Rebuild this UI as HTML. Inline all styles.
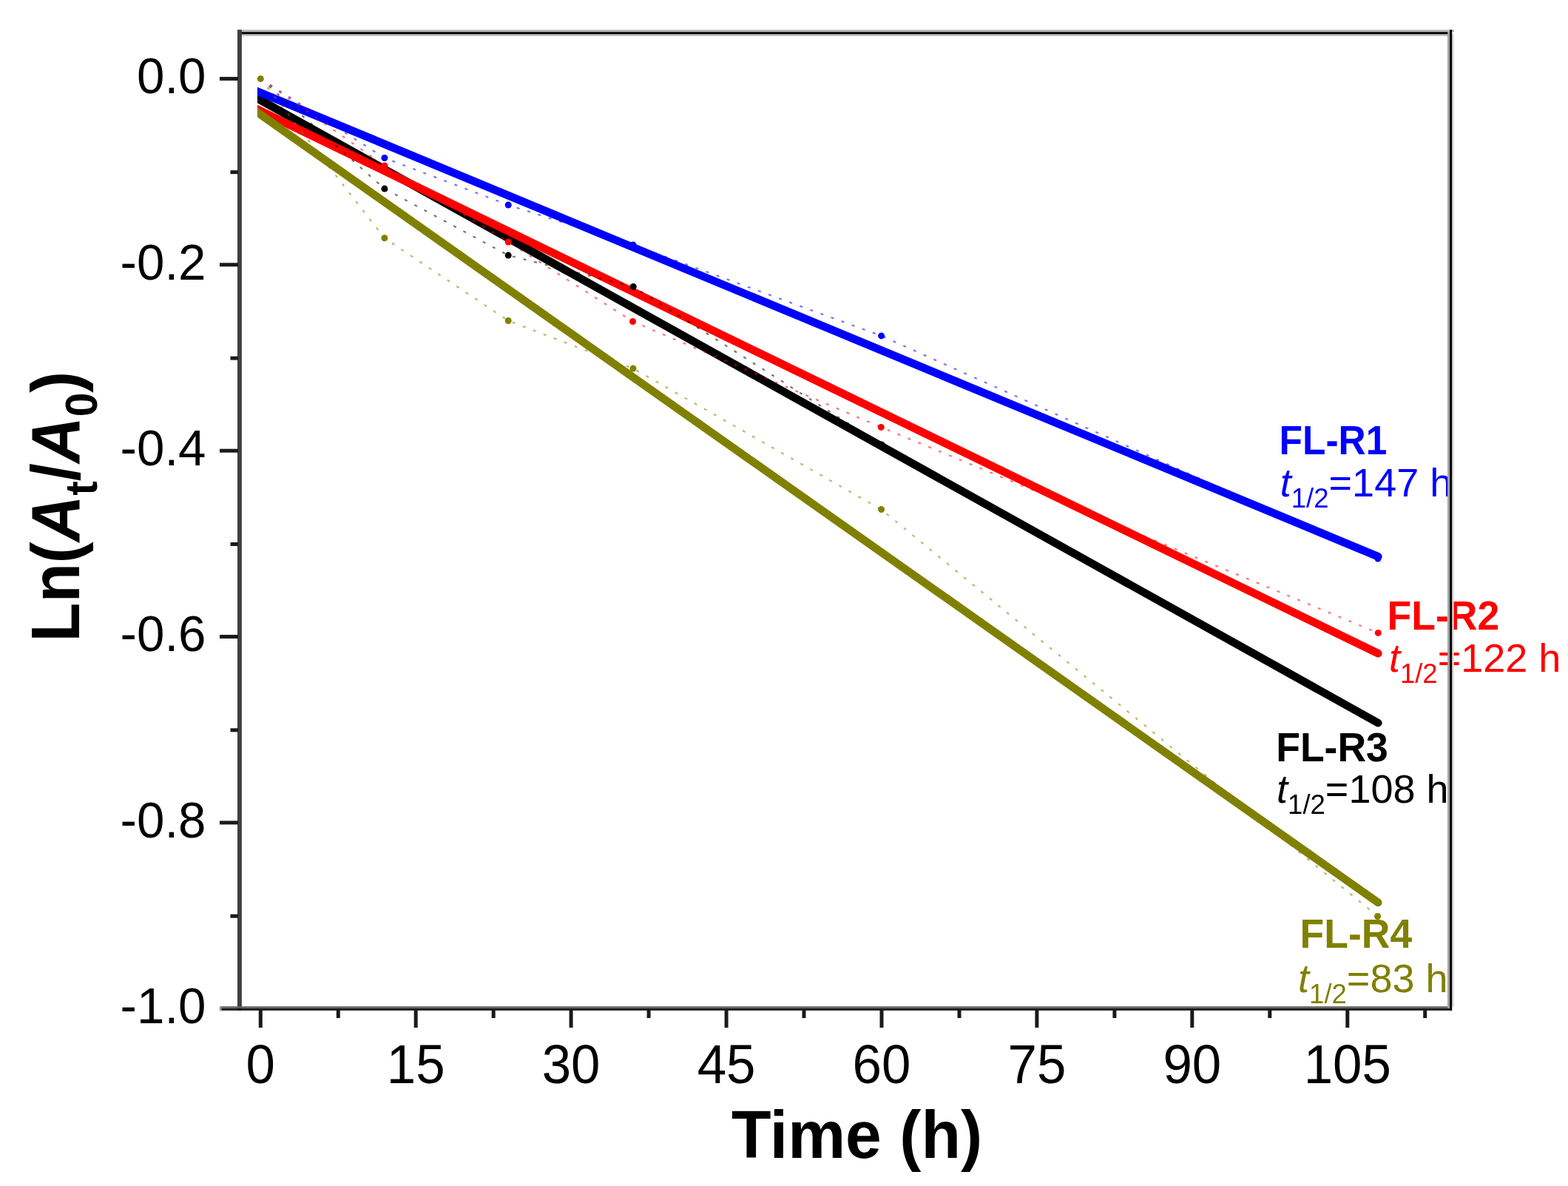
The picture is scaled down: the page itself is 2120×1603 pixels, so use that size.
<!DOCTYPE html>
<html><head><meta charset="utf-8"><title>Ln(At/A0) vs Time</title>
<style>
html,body{margin:0;padding:0;background:#fff;}
body{width:2120px;height:1603px;overflow:hidden;}
svg{display:block;}
</style></head>
<body>
<svg width="2120" height="1603" viewBox="0 0 2120 1603">
<rect x="0" y="0" width="2120" height="1603" fill="#ffffff"/>
<defs><clipPath id="fitclip"><rect x="348" y="40" width="1540" height="1330"/></clipPath></defs>
<g clip-path="url(#fitclip)">
<line x1="338.0" y1="127.43" x2="1863.2" y2="977.12" stroke="#000000" stroke-width="10.8" stroke-linecap="round"/>
<line x1="338.0" y1="142.85" x2="1863.2" y2="883.18" stroke="#ff0000" stroke-width="10.8" stroke-linecap="round"/>
<line x1="338.0" y1="144.85" x2="1863.2" y2="1219.81" stroke="#808000" stroke-width="10.8" stroke-linecap="round"/>
<line x1="338.0" y1="119.35" x2="1863.2" y2="752.16" stroke="#0000ff" stroke-width="10.8" stroke-linecap="round"/>
</g>
<path d="M352.3,106.4 L519.9,213.5 L687.2,277.0 L856.0,331.0 L1191.6,453.9 L1863.0,755.0" fill="none" stroke="#0000ff" stroke-width="2.2" stroke-dasharray="4 11" opacity="0.55"/>
<path d="M352.3,106.4 L520.0,224.0 L687.2,327.0 L855.5,434.5 L1191.3,577.4 L1863.3,855.4" fill="none" stroke="#ff0000" stroke-width="2.2" stroke-dasharray="4 11" opacity="0.55"/>
<path d="M352.3,106.4 L519.9,255.1 L687.2,345.1 L856.2,387.5 L1192.0,601.0 L1863.0,977.0" fill="none" stroke="#000000" stroke-width="2.2" stroke-dasharray="4 11" opacity="0.55"/>
<path d="M352.3,106.4 L519.9,321.8 L687.2,433.5 L856.0,498.0 L1191.6,688.6 L1862.6,1238.5" fill="none" stroke="#808000" stroke-width="2.2" stroke-dasharray="4 11" opacity="0.55"/>
<circle cx="519.9" cy="213.5" r="4.5" fill="#0000ff"/>
<circle cx="687.2" cy="277.0" r="4.5" fill="#0000ff"/>
<circle cx="856.0" cy="331.0" r="4.5" fill="#0000ff"/>
<circle cx="1191.6" cy="453.9" r="4.5" fill="#0000ff"/>
<circle cx="1863.0" cy="755.0" r="4.5" fill="#0000ff"/>
<circle cx="520.0" cy="224.0" r="4.5" fill="#ff0000"/>
<circle cx="687.2" cy="327.0" r="4.5" fill="#ff0000"/>
<circle cx="855.5" cy="434.5" r="4.5" fill="#ff0000"/>
<circle cx="1191.3" cy="577.4" r="4.5" fill="#ff0000"/>
<circle cx="1863.3" cy="855.4" r="4.5" fill="#ff0000"/>
<circle cx="519.9" cy="255.1" r="4.5" fill="#000000"/>
<circle cx="687.2" cy="345.1" r="4.5" fill="#000000"/>
<circle cx="856.2" cy="387.5" r="4.5" fill="#000000"/>
<circle cx="1192.0" cy="601.0" r="4.5" fill="#000000"/>
<circle cx="1863.0" cy="977.0" r="4.5" fill="#000000"/>
<circle cx="519.9" cy="321.8" r="4.5" fill="#808000"/>
<circle cx="687.2" cy="433.5" r="4.5" fill="#808000"/>
<circle cx="856.0" cy="498.0" r="4.5" fill="#808000"/>
<circle cx="1191.6" cy="688.6" r="4.5" fill="#808000"/>
<circle cx="1862.6" cy="1238.5" r="4.5" fill="#808000"/>
<circle cx="352.3" cy="106.4" r="4.5" fill="#808000"/>
<rect x="321" y="40.2" width="1645" height="3.0" fill="#b8b8b8"/>
<rect x="321" y="46.2" width="1639" height="2.6" fill="#c0c0c0"/>
<rect x="321" y="43.2" width="1642" height="3.0" fill="#000"/>
<rect x="321.0" y="40.2" width="5.9" height="1325.6" fill="#404040"/>
<rect x="297" y="1360.2" width="1666" height="2.6" fill="#606060"/>
<rect x="297" y="1362.8" width="1666" height="3.0" fill="#1a1a1a"/>
<rect x="297" y="1360.2" width="2.5" height="5.6" fill="#999"/>
<line x1="297" y1="106.4" x2="322" y2="106.4" stroke="#1a1a1a" stroke-width="5"/>
<line x1="297" y1="357.8" x2="322" y2="357.8" stroke="#1a1a1a" stroke-width="5"/>
<line x1="297" y1="609.2" x2="322" y2="609.2" stroke="#1a1a1a" stroke-width="5"/>
<line x1="297" y1="860.5" x2="322" y2="860.5" stroke="#1a1a1a" stroke-width="5"/>
<line x1="297" y1="1111.9" x2="322" y2="1111.9" stroke="#1a1a1a" stroke-width="5"/>
<line x1="311.5" y1="232.7" x2="322" y2="232.7" stroke="#1a1a1a" stroke-width="5"/>
<line x1="311.5" y1="484.1" x2="322" y2="484.1" stroke="#1a1a1a" stroke-width="5"/>
<line x1="311.5" y1="735.5" x2="322" y2="735.5" stroke="#1a1a1a" stroke-width="5"/>
<line x1="311.5" y1="986.8" x2="322" y2="986.8" stroke="#1a1a1a" stroke-width="5"/>
<line x1="311.5" y1="1238.2" x2="322" y2="1238.2" stroke="#1a1a1a" stroke-width="5"/>
<line x1="352.3" y1="1364" x2="352.3" y2="1389" stroke="#1a1a1a" stroke-width="5"/>
<line x1="562.2" y1="1364" x2="562.2" y2="1389" stroke="#1a1a1a" stroke-width="5"/>
<line x1="772.1" y1="1364" x2="772.1" y2="1389" stroke="#1a1a1a" stroke-width="5"/>
<line x1="982.1" y1="1364" x2="982.1" y2="1389" stroke="#1a1a1a" stroke-width="5"/>
<line x1="1192.0" y1="1364" x2="1192.0" y2="1389" stroke="#1a1a1a" stroke-width="5"/>
<line x1="1401.9" y1="1364" x2="1401.9" y2="1389" stroke="#1a1a1a" stroke-width="5"/>
<line x1="1611.8" y1="1364" x2="1611.8" y2="1389" stroke="#1a1a1a" stroke-width="5"/>
<line x1="1821.8" y1="1364" x2="1821.8" y2="1389" stroke="#1a1a1a" stroke-width="5"/>
<line x1="457.3" y1="1364" x2="457.3" y2="1376" stroke="#1a1a1a" stroke-width="5"/>
<line x1="667.2" y1="1364" x2="667.2" y2="1376" stroke="#1a1a1a" stroke-width="5"/>
<line x1="877.1" y1="1364" x2="877.1" y2="1376" stroke="#1a1a1a" stroke-width="5"/>
<line x1="1087.0" y1="1364" x2="1087.0" y2="1376" stroke="#1a1a1a" stroke-width="5"/>
<line x1="1297.0" y1="1364" x2="1297.0" y2="1376" stroke="#1a1a1a" stroke-width="5"/>
<line x1="1506.9" y1="1364" x2="1506.9" y2="1376" stroke="#1a1a1a" stroke-width="5"/>
<line x1="1716.8" y1="1364" x2="1716.8" y2="1376" stroke="#1a1a1a" stroke-width="5"/>
<line x1="1926.7" y1="1364" x2="1926.7" y2="1376" stroke="#1a1a1a" stroke-width="5"/>
<text transform="translate(278.5,126.15) scale(0.975,1)" font-family="'Liberation Sans', Arial, Helvetica, sans-serif" font-size="69" text-anchor="end" fill="#000">0.0</text>
<text transform="translate(278.5,377.53) scale(0.975,1)" font-family="'Liberation Sans', Arial, Helvetica, sans-serif" font-size="69" text-anchor="end" fill="#000">-0.2</text>
<text transform="translate(278.5,628.91) scale(0.975,1)" font-family="'Liberation Sans', Arial, Helvetica, sans-serif" font-size="69" text-anchor="end" fill="#000">-0.4</text>
<text transform="translate(278.5,880.29) scale(0.975,1)" font-family="'Liberation Sans', Arial, Helvetica, sans-serif" font-size="69" text-anchor="end" fill="#000">-0.6</text>
<text transform="translate(278.5,1131.67) scale(0.975,1)" font-family="'Liberation Sans', Arial, Helvetica, sans-serif" font-size="69" text-anchor="end" fill="#000">-0.8</text>
<text transform="translate(278.5,1383.05) scale(0.975,1)" font-family="'Liberation Sans', Arial, Helvetica, sans-serif" font-size="69" text-anchor="end" fill="#000">-1.0</text>
<text transform="translate(352.3,1463.5) scale(0.945,1)" font-family="'Liberation Sans', Arial, Helvetica, sans-serif" font-size="75" text-anchor="middle" fill="#000">0</text>
<text transform="translate(562.2,1463.5) scale(0.945,1)" font-family="'Liberation Sans', Arial, Helvetica, sans-serif" font-size="75" text-anchor="middle" fill="#000">15</text>
<text transform="translate(772.1,1463.5) scale(0.945,1)" font-family="'Liberation Sans', Arial, Helvetica, sans-serif" font-size="75" text-anchor="middle" fill="#000">30</text>
<text transform="translate(982.1,1463.5) scale(0.945,1)" font-family="'Liberation Sans', Arial, Helvetica, sans-serif" font-size="75" text-anchor="middle" fill="#000">45</text>
<text transform="translate(1192.0,1463.5) scale(0.945,1)" font-family="'Liberation Sans', Arial, Helvetica, sans-serif" font-size="75" text-anchor="middle" fill="#000">60</text>
<text transform="translate(1401.9,1463.5) scale(0.945,1)" font-family="'Liberation Sans', Arial, Helvetica, sans-serif" font-size="75" text-anchor="middle" fill="#000">75</text>
<text transform="translate(1611.8,1463.5) scale(0.945,1)" font-family="'Liberation Sans', Arial, Helvetica, sans-serif" font-size="75" text-anchor="middle" fill="#000">90</text>
<text transform="translate(1821.8,1463.5) scale(0.945,1)" font-family="'Liberation Sans', Arial, Helvetica, sans-serif" font-size="75" text-anchor="middle" fill="#000">105</text>
<text transform="translate(1158.5,1565.0) scale(0.963,1)" font-family="'Liberation Sans', Arial, Helvetica, sans-serif" font-size="91" font-weight="bold" text-anchor="middle" fill="#000">Time (h)</text>
<text transform="translate(106.8,684.6) rotate(-90) scale(0.944,1)" font-family="'Liberation Sans', Arial, Helvetica, sans-serif" font-size="92" font-weight="bold" text-anchor="middle" fill="#000">Ln(<tspan font-style="italic">A</tspan><tspan font-size="62" dy="24">t</tspan><tspan dy="-24">/</tspan><tspan font-style="italic">A</tspan><tspan font-size="62" dy="24">0</tspan><tspan dy="-24">)</tspan></text>
<text transform="translate(1729.6,613.5) scale(0.927,1)" font-family="'Liberation Sans', Arial, Helvetica, sans-serif" font-size="55.5" font-weight="bold" fill="#0000ff">FL-R1</text>
<text x="1730.8" y="671.0" font-family="'Liberation Sans', Arial, Helvetica, sans-serif" font-size="54" fill="#0000ff"><tspan font-style="italic">t</tspan><tspan font-size="36.5" dy="15">1/2</tspan><tspan dy="-15">=147 h</tspan></text>
<text transform="translate(1875.6,851.0) scale(0.965,1)" font-family="'Liberation Sans', Arial, Helvetica, sans-serif" font-size="55.5" font-weight="bold" fill="#ff0000">FL-R2</text>
<text x="1877.9" y="908.3" font-family="'Liberation Sans', Arial, Helvetica, sans-serif" font-size="54" fill="#ff0000"><tspan font-style="italic">t</tspan><tspan font-size="36.5" dy="15">1/2</tspan><tspan dy="-15">=122 h</tspan></text>
<text transform="translate(1725.2,1028.7) scale(0.965,1)" font-family="'Liberation Sans', Arial, Helvetica, sans-serif" font-size="55.5" font-weight="bold" fill="#000000">FL-R3</text>
<text x="1726.1" y="1084.5" font-family="'Liberation Sans', Arial, Helvetica, sans-serif" font-size="54" fill="#000000"><tspan font-style="italic">t</tspan><tspan font-size="36.5" dy="15">1/2</tspan><tspan dy="-15">=108 h</tspan></text>
<text transform="translate(1757.6,1280.5) scale(0.965,1)" font-family="'Liberation Sans', Arial, Helvetica, sans-serif" font-size="55.5" font-weight="bold" fill="#808000">FL-R4</text>
<text x="1755.1" y="1341.3" font-family="'Liberation Sans', Arial, Helvetica, sans-serif" font-size="54" fill="#808000"><tspan font-style="italic">t</tspan><tspan font-size="36.5" dy="15">1/2</tspan><tspan dy="-15">=83 h</tspan></text>
<rect x="1957.1" y="43" width="3.4" height="1320" fill="#a0a0a0"/>
<rect x="1963.1" y="46" width="2.6" height="1314" fill="#dcdcdc"/>
<rect x="1960.2" y="40.2" width="3.0" height="1325.6" fill="#000"/>
</svg>
</body></html>
